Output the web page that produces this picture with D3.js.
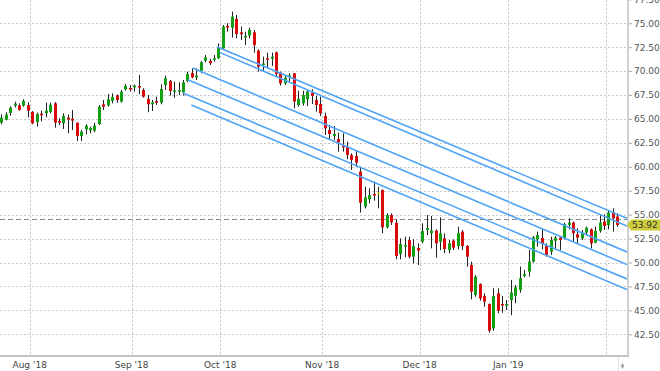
<!DOCTYPE html>
<html>
<head>
<meta charset="utf-8">
<script src="https://cdnjs.cloudflare.com/ajax/libs/d3/7.8.5/d3.min.js"></script>
<style>
  html, body { margin: 0; padding: 0; background: #fff; }
  svg { display: block; }
</style>
</head>
<body>
<div id="chart"></div>
<script>
/* =========================================
   Daily candlesticks, Jul '18 - Feb '19
   parallel trend channel + last price tag
   ========================================= */

// ---- Data (one entry per trading day, index 0 = first bar) ----
const open = [
  64.61, 64.93, 65.62, 66.39, 66.42, 66.39, 66.46, 65.73, 64.68, 65.55,
  65.59, 65.73, 66.63, 64.79, 64.54, 65.13, 65.03, 64.61, 63.22, 63.92,
  63.81, 63.78, 64.47, 66.53, 66.42, 66.88, 67.47, 66.81, 68.09, 68.23,
  68.30, 68.44, 68.03, 67.09, 66.53, 66.88, 66.70, 68.55, 68.97, 67.93,
  67.95, 67.78, 68.97, 69.80, 69.35, 70.02, 71.09, 71.06, 71.23, 71.34,
  72.38, 74.72, 74.54, 75.45, 74.05, 73.57, 73.71, 74.05, 72.14, 70.74,
  71.34, 71.30, 71.96, 69.84, 68.72, 69.49, 69.77, 66.46, 66.63, 67.05,
  67.75, 66.98, 66.56, 65.31, 63.85, 63.22, 62.90, 62.21, 62.10, 61.23,
  61.13, 59.50, 55.84, 56.60, 57.16, 57.30, 57.57, 53.67, 54.96, 54.16,
  50.89, 51.66, 52.35, 50.61, 51.51, 52.18, 53.40, 53.05, 53.33, 52.18,
  52.52, 51.30, 52.28, 51.72, 53.22, 51.72, 49.74, 46.60, 47.75, 46.50,
  45.66, 43.12, 46.78, 45.66, 45.50, 46.08, 46.50, 47.13, 48.60, 49.05,
  50.09, 52.42, 52.56, 51.83, 51.13, 52.28, 52.60, 52.53, 53.92, 54.17,
  52.95, 52.53, 53.12, 53.47, 52.07, 53.30, 54.27, 53.92, 55.21, 54.80
];
const high = [
  65.48, 65.69, 66.32, 66.80, 66.63, 67.05, 66.74, 65.83, 65.66, 65.87,
  66.70, 66.70, 66.77, 65.07, 65.59, 65.45, 65.93, 64.61, 63.85, 64.44,
  64.20, 64.61, 66.46, 66.98, 67.60, 67.67, 67.57, 68.03, 68.65, 68.55,
  68.58, 69.60, 68.20, 67.50, 66.98, 67.33, 68.62, 69.53, 69.07, 68.90,
  68.83, 69.07, 69.94, 70.29, 70.29, 71.06, 71.68, 71.27, 71.68, 72.90,
  74.82, 75.00, 76.21, 75.86, 74.65, 74.12, 74.54, 74.30, 72.27, 71.51,
  71.93, 71.93, 72.03, 69.94, 69.49, 69.77, 69.77, 67.95, 67.95, 67.95,
  68.10, 67.40, 67.33, 65.66, 64.37, 64.26, 63.57, 63.50, 62.63, 61.41,
  61.65, 60.01, 57.92, 57.75, 58.45, 57.92, 57.64, 55.14, 55.14, 54.51,
  52.52, 52.70, 52.70, 52.42, 52.00, 54.09, 54.96, 54.86, 53.47, 54.72,
  53.05, 52.35, 52.42, 53.74, 53.40, 51.83, 50.09, 48.69, 47.82, 46.78,
  45.73, 47.30, 47.30, 46.50, 46.08, 48.18, 47.65, 49.57, 49.22, 51.31,
  52.77, 53.22, 53.47, 52.00, 52.70, 52.77, 52.70, 54.17, 54.62, 54.27,
  53.57, 53.40, 53.75, 53.57, 53.75, 55.07, 55.04, 55.49, 55.66, 55.14
];
const low = [
  64.44, 64.86, 65.34, 66.20, 65.87, 66.28, 65.17, 64.44, 64.20, 64.75,
  65.17, 65.59, 64.09, 64.37, 63.95, 63.50, 63.85, 62.70, 62.70, 63.39,
  63.50, 63.60, 64.37, 65.93, 66.28, 66.63, 66.70, 66.70, 67.95, 67.85,
  67.85, 67.60, 67.23, 65.70, 65.83, 66.46, 66.53, 68.03, 67.44, 67.20,
  67.50, 67.44, 68.83, 69.25, 69.07, 69.77, 70.92, 70.64, 70.99, 71.27,
  72.31, 74.12, 73.50, 73.43, 73.25, 72.73, 73.43, 71.93, 69.94, 69.94,
  70.29, 70.53, 69.42, 68.48, 68.55, 68.90, 66.11, 66.28, 66.39, 66.35,
  66.56, 65.76, 65.31, 63.32, 62.87, 62.80, 61.58, 61.58, 60.78, 59.67,
  60.01, 55.21, 55.66, 56.18, 56.46, 55.66, 53.05, 53.57, 53.92, 50.33,
  50.33, 50.54, 50.43, 49.91, 49.74, 52.00, 52.87, 51.48, 50.50, 51.30,
  50.96, 50.96, 51.30, 51.37, 51.30, 49.56, 46.15, 46.43, 46.01, 45.38,
  42.67, 42.88, 44.69, 44.75, 45.04, 44.50, 45.74, 46.85, 48.46, 48.53,
  49.99, 51.66, 51.38, 50.61, 50.79, 51.31, 51.31, 52.42, 53.47, 52.18,
  51.94, 52.35, 52.88, 51.48, 52.00, 53.12, 53.40, 53.47, 53.22, 53.75
];
const close = [
  65.13, 65.45, 66.18, 66.60, 65.93, 66.88, 65.87, 64.54, 65.52, 65.38,
  65.87, 66.49, 64.61, 64.61, 65.31, 64.93, 64.82, 63.22, 63.67, 64.30,
  64.05, 64.30, 66.28, 66.28, 67.05, 67.30, 66.98, 67.85, 68.44, 68.09,
  68.48, 68.27, 67.33, 66.53, 66.74, 66.70, 68.13, 69.25, 67.93, 67.98,
  68.00, 68.83, 69.70, 69.35, 69.53, 70.92, 71.44, 70.82, 71.34, 72.45,
  74.65, 74.54, 75.69, 73.88, 73.85, 73.67, 74.30, 72.73, 70.46, 70.78,
  71.23, 71.51, 69.70, 68.72, 69.31, 69.55, 66.81, 67.09, 67.50, 67.85,
  67.40, 66.46, 65.59, 64.02, 63.43, 63.43, 62.56, 62.03, 61.23, 60.71,
  60.43, 56.25, 56.81, 57.05, 57.02, 57.30, 53.67, 54.96, 54.20, 50.68,
  51.93, 51.83, 50.61, 51.72, 51.24, 53.29, 53.60, 53.33, 52.00, 53.05,
  51.41, 52.00, 51.55, 53.05, 51.72, 50.61, 46.95, 48.52, 46.25, 45.91,
  42.88, 46.50, 44.97, 45.56, 45.67, 46.85, 47.41, 48.35, 48.80, 50.09,
  52.63, 52.87, 51.93, 50.79, 52.35, 52.60, 52.35, 54.03, 54.17, 53.05,
  52.60, 53.12, 53.64, 52.00, 53.30, 54.17, 53.82, 55.21, 54.62, 53.92
];

// Month separators (bar index where each month begins) and their labels
const monthTickIdx = [6.4, 29.4, 49.4, 72.4, 94.4, 114.4, 136.4];
const monthLabels = ["Aug '18", "Sep '18", "Oct '18", "Nov '18", "Dec '18", "Jan '19", ""];

// Price axis ticks
const priceTicks = [42.5, 45, 47.5, 50, 52.5, 55, 57.5, 60, 62.5, 65, 67.5, 70, 72.5, 75, 77.5];

// Parallel trend lines: start bar, start price, end price (at right edge)
const trendStartIdx   = [48.9, 49.4, 43.3, 42.2, 41.1, 43.0];
const trendStartPrice = [72.50, 71.93, 70.29, 69.07, 67.68, 66.43];
const trendEndPrice   = [54.62, 53.81, 51.10, 49.79, 48.28, 47.18];

const lastPrice = 53.92;
const refLevel = 54.52;

// ---- Layout ----
const width = 660, height = 371;
const plot = { left: 0, top: 0, right: 627, bottom: 355.5 };

const svg = d3.select('#chart').append('svg')
  .attr('width', width)
  .attr('height', height)
  .attr('font-family', '"DejaVu Sans", Verdana, sans-serif');

const bars = open.map((o, i) => ({ i, o, h: high[i], l: low[i], c: close[i] }));

// ---- Scales ----
const x = d3.scaleLinear().domain([-0.3, 141.2]).range([plot.left, plot.right]);
const y = d3.scaleLinear().domain([42.5, 77.5]).range([334.3, -0.7]);

const clip = svg.append('defs').append('clipPath').attr('id', 'plotClip');
clip.append('rect')
  .attr('x', plot.left).attr('y', plot.top)
  .attr('width', plot.right - plot.left).attr('height', plot.bottom - plot.top);

// ---- Grid lines ----
const grid = svg.append('g').attr('stroke', '#c8c8c8').attr('stroke-dasharray', '2 2').attr('stroke-width', 1);

grid.selectAll('line.h').data(priceTicks).join('line')
  .attr('class', 'h')
  .attr('x1', plot.left).attr('x2', plot.right)
  .attr('y1', d => Math.round(y(d)) + 0.5).attr('y2', d => Math.round(y(d)) + 0.5);

grid.selectAll('line.v').data(monthTickIdx).join('line')
  .attr('class', 'v')
  .attr('x1', d => Math.round(x(d)) + 0.5).attr('x2', d => Math.round(x(d)) + 0.5)
  .attr('y1', plot.top).attr('y2', plot.bottom);

// ---- Reference level (dashed) ----
svg.append('line')
  .attr('x1', plot.left).attr('x2', plot.right)
  .attr('y1', Math.round(y(refLevel)) + 0.5).attr('y2', Math.round(y(refLevel)) + 0.5)
  .attr('stroke', '#8a8a8a')
  .attr('stroke-width', 1)
  .attr('stroke-dasharray', '5 3');

// ---- Candles ----
const candleColor = d => d.c > d.o ? '#12a012' : d.c < d.o ? '#d90b0b' : '#f2e21a';
const bodyW = 3;

const candles = svg.append('g').attr('clip-path', 'url(#plotClip)')
  .selectAll('g').data(bars).join('g');

candles.append('line')
  .attr('x1', d => Math.round(x(d.i)) + 0.5).attr('x2', d => Math.round(x(d.i)) + 0.5)
  .attr('y1', d => y(d.h)).attr('y2', d => y(d.l))
  .attr('stroke', '#222')
  .attr('stroke-width', 1);

candles.append('rect')
  .attr('x', d => Math.round(x(d.i)) - 1)
  .attr('y', d => y(Math.max(d.o, d.c)))
  .attr('width', bodyW)
  .attr('height', d => Math.max(1.5, Math.abs(y(d.o) - y(d.c))))
  .attr('fill', candleColor);

// ---- Trend channel ----
const xEnd = x.domain()[1];
svg.append('g').attr('clip-path', 'url(#plotClip)')
  .selectAll('line').data(trendStartIdx).join('line')
  .attr('x1', d => x(d))
  .attr('y1', (d, k) => y(trendStartPrice[k]))
  .attr('x2', x(xEnd))
  .attr('y2', (d, k) => y(trendEndPrice[k]))
  .attr('stroke', '#4ea3f7')
  .attr('stroke-width', 1.6)
  .attr('stroke-linecap', 'round');

// ---- Axes frame ----
svg.append('line')
  .attr('x1', plot.right + 1).attr('x2', plot.right + 1)
  .attr('y1', 0).attr('y2', plot.bottom + 1)
  .attr('stroke', '#d0d0d0').attr('stroke-width', 2);

svg.append('line')
  .attr('x1', 0).attr('x2', plot.right + 2)
  .attr('y1', plot.bottom + 0.5).attr('y2', plot.bottom + 0.5)
  .attr('stroke', '#c4c4c4').attr('stroke-width', 2);

// ---- Price axis (right) ----
const yAxis = d3.axisRight(y)
  .tickValues(priceTicks)
  .tickFormat(d => d.toFixed(2))
  .tickSize(3)
  .tickPadding(2);

svg.append('g')
  .attr('transform', `translate(${plot.right + 2},0)`)
  .call(yAxis)
  .call(g => g.select('.domain').remove())
  .call(g => g.selectAll('.tick line').attr('stroke', '#aaa'))
  .call(g => g.selectAll('.tick text')
    .attr('font-family', '"DejaVu Sans", Verdana, sans-serif')
    .attr('font-size', '9px')
    .attr('fill', '#555'));

// ---- Time axis (bottom) ----
svg.append('g')
  .selectAll('text').data(monthTickIdx).join('text')
  .attr('x', d => x(d))
  .attr('y', 367.5)
  .attr('text-anchor', 'middle')
  .attr('font-size', '9px')
  .attr('fill', '#444')
  .text((d, k) => monthLabels[k]);

// ---- Last price tag ----
const ly = y(lastPrice);
svg.append('path')
  .attr('d', `M${plot.right},${ly} L${plot.right + 4},${ly - 5.5} L${width},${ly - 5.5} L${width},${ly + 5.5} L${plot.right + 4},${ly + 5.5} Z`)
  .attr('fill', '#cdcd3c');

svg.append('text')
  .attr('x', plot.right + 5)
  .attr('y', ly + 3.5)
  .attr('font-size', '9px')
  .attr('fill', '#333')
  .text(lastPrice.toFixed(2));

// ---- Corner scroll marker ----
svg.append('line')
  .attr('x1', 618.5).attr('x2', 618.5)
  .attr('y1', plot.bottom + 2).attr('y2', height)
  .attr('stroke', '#e2e2e2');

svg.append('path')
  .attr('transform', `translate(622.5,${height - 5})`)
  .attr('d', d3.symbol(d3.symbolDiamond, 10)())
  .attr('fill', '#a0a0a0');
</script>
</body>
</html>
